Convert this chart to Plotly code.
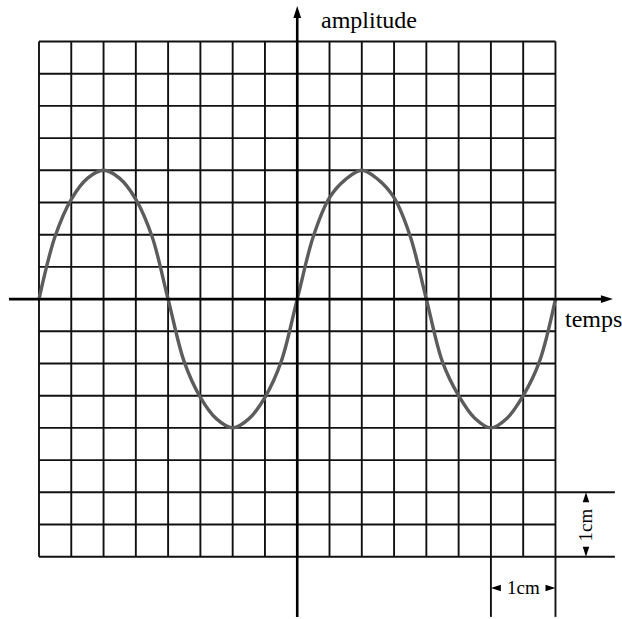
import plotly.graph_objects as go

# ---- data (grid units: 1 cell = 0.5 cm) ----
curve_x = [-8, -7.5, -7, -6.5, -6, -5.5, -5, -4.5,
           -4, -3.5, -3, -2.5, -2, -1.5, -1, -0.5,
           0, 0.5, 1, 1.5, 2, 2.5, 3, 3.5,
           4, 4.5, 5, 5.5, 6, 6.5, 7, 7.5, 8]
curve_y = [0, 1.95, 3.1, 3.75, 4, 3.75, 3.1, 1.95,
           0, -1.95, -3.05, -3.72, -4, -3.72, -3.05, -1.95,
           0, 1.95, 3.15, 3.72, 4, 3.72, 3.15, 1.95,
           0, -1.95, -3.0, -3.7, -4, -3.7, -3.0, -1.95, 0]

grid_lines = list(range(-8, 9))      # grid from -8 to 8 in both directions
dim_x = [6, 8]                       # horizontal "1cm" dimension
dim_y = [-8, -6]                     # vertical "1cm" dimension
x_label = "temps"
y_label = "amplitude"
dim_label = "1cm"

# ---- view ----
X_RANGE = [-9.208, 10.061]
Y_RANGE = [-9.935, 9.289]
X_AXIS_SPAN = [-8.93, 9.78]
Y_AXIS_SPAN = [-9.87, 9.10]
EXT_X_END = 9.84
EXT_Y_END = -9.87
VDIM_X = 8.945
HDIM_Y = -8.97

GRID_COLOR = "#111111"
fig = go.Figure()
shapes = []
for g in grid_lines:
    shapes.append(dict(type="line", xref="x", yref="y", x0=g, x1=g,
                       y0=grid_lines[0], y1=grid_lines[-1],
                       line=dict(color=GRID_COLOR, width=1.9), layer="below"))
    shapes.append(dict(type="line", xref="x", yref="y", y0=g, y1=g,
                       x0=grid_lines[0], x1=grid_lines[-1],
                       line=dict(color=GRID_COLOR, width=1.9), layer="below"))
# extension lines for the dimensions
for yy in dim_y:
    shapes.append(dict(type="line", xref="x", yref="y", x0=grid_lines[-1], x1=EXT_X_END,
                       y0=yy, y1=yy, line=dict(color=GRID_COLOR, width=1.9), layer="below"))
for xx in dim_x:
    shapes.append(dict(type="line", xref="x", yref="y", x0=xx, x1=xx,
                       y0=grid_lines[0], y1=EXT_Y_END,
                       line=dict(color=GRID_COLOR, width=1.9), layer="below"))

# curve
fig.add_trace(go.Scatter(x=curve_x, y=curve_y, mode="lines",
                         line=dict(color="#5c5c5c", width=3.4, shape="spline", smoothing=1.0),
                         hoverinfo="skip"))

# axes lines
fig.add_trace(go.Scatter(x=[X_AXIS_SPAN[0], X_AXIS_SPAN[1] - 0.2], y=[0, 0], mode="lines",
                         line=dict(color="#000", width=2.6), hoverinfo="skip"))
fig.add_trace(go.Scatter(x=[0, 0], y=[Y_AXIS_SPAN[0], Y_AXIS_SPAN[1] - 0.2], mode="lines",
                         line=dict(color="#000", width=2.6), hoverinfo="skip"))
# axis arrow heads
fig.add_trace(go.Scatter(x=[X_AXIS_SPAN[1], 0], y=[0, Y_AXIS_SPAN[1]], mode="markers",
                         marker=dict(symbol="arrow", size=12.6, angle=[90, 0], color="#000",
                                     line=dict(width=0)), hoverinfo="skip"))
# dimension arrow heads
fig.add_trace(go.Scatter(x=[dim_x[0], dim_x[1], VDIM_X, VDIM_X],
                         y=[HDIM_Y, HDIM_Y, dim_y[1], dim_y[0]], mode="markers",
                         marker=dict(symbol="arrow", size=10.5, angle=[270, 90, 0, 180],
                                     color="#000", line=dict(width=0)), hoverinfo="skip"))

SERIF = "Liberation Serif, Times New Roman, serif"
annotations = [
    dict(x=0.674, y=8.668, xref="x", yref="y", text=y_label, showarrow=False,
         xanchor="left", yanchor="middle", font=dict(family=SERIF, size=24, color="#000")),
    dict(x=8.233, y=-0.618, xref="x", yref="y", text=x_label, showarrow=False,
         xanchor="left", yanchor="middle", font=dict(family=SERIF, size=24, color="#000")),
    dict(x=sum(dim_x) / 2, y=HDIM_Y, xref="x", yref="y", text=dim_label, showarrow=False,
         xanchor="center", yanchor="middle", font=dict(family=SERIF, size=19, color="#000")),
    dict(x=VDIM_X, y=sum(dim_y) / 2, xref="x", yref="y", text=dim_label, showarrow=False,
         textangle=-90, xanchor="center", yanchor="middle",
         font=dict(family=SERIF, size=19, color="#000")),
]

fig.update_layout(
    width=622, height=619,
    margin=dict(l=0, r=0, t=0, b=0),
    paper_bgcolor="white", plot_bgcolor="white",
    showlegend=False,
    xaxis=dict(range=X_RANGE, visible=False, fixedrange=True),
    yaxis=dict(range=Y_RANGE, visible=False, fixedrange=True),
    shapes=shapes, annotations=annotations,
)
fig.write_html("out.html", config={"displayModeBar": False},
               post_script="document.body.style.margin='0';"
                           "document.body.style.overflow='hidden';")
